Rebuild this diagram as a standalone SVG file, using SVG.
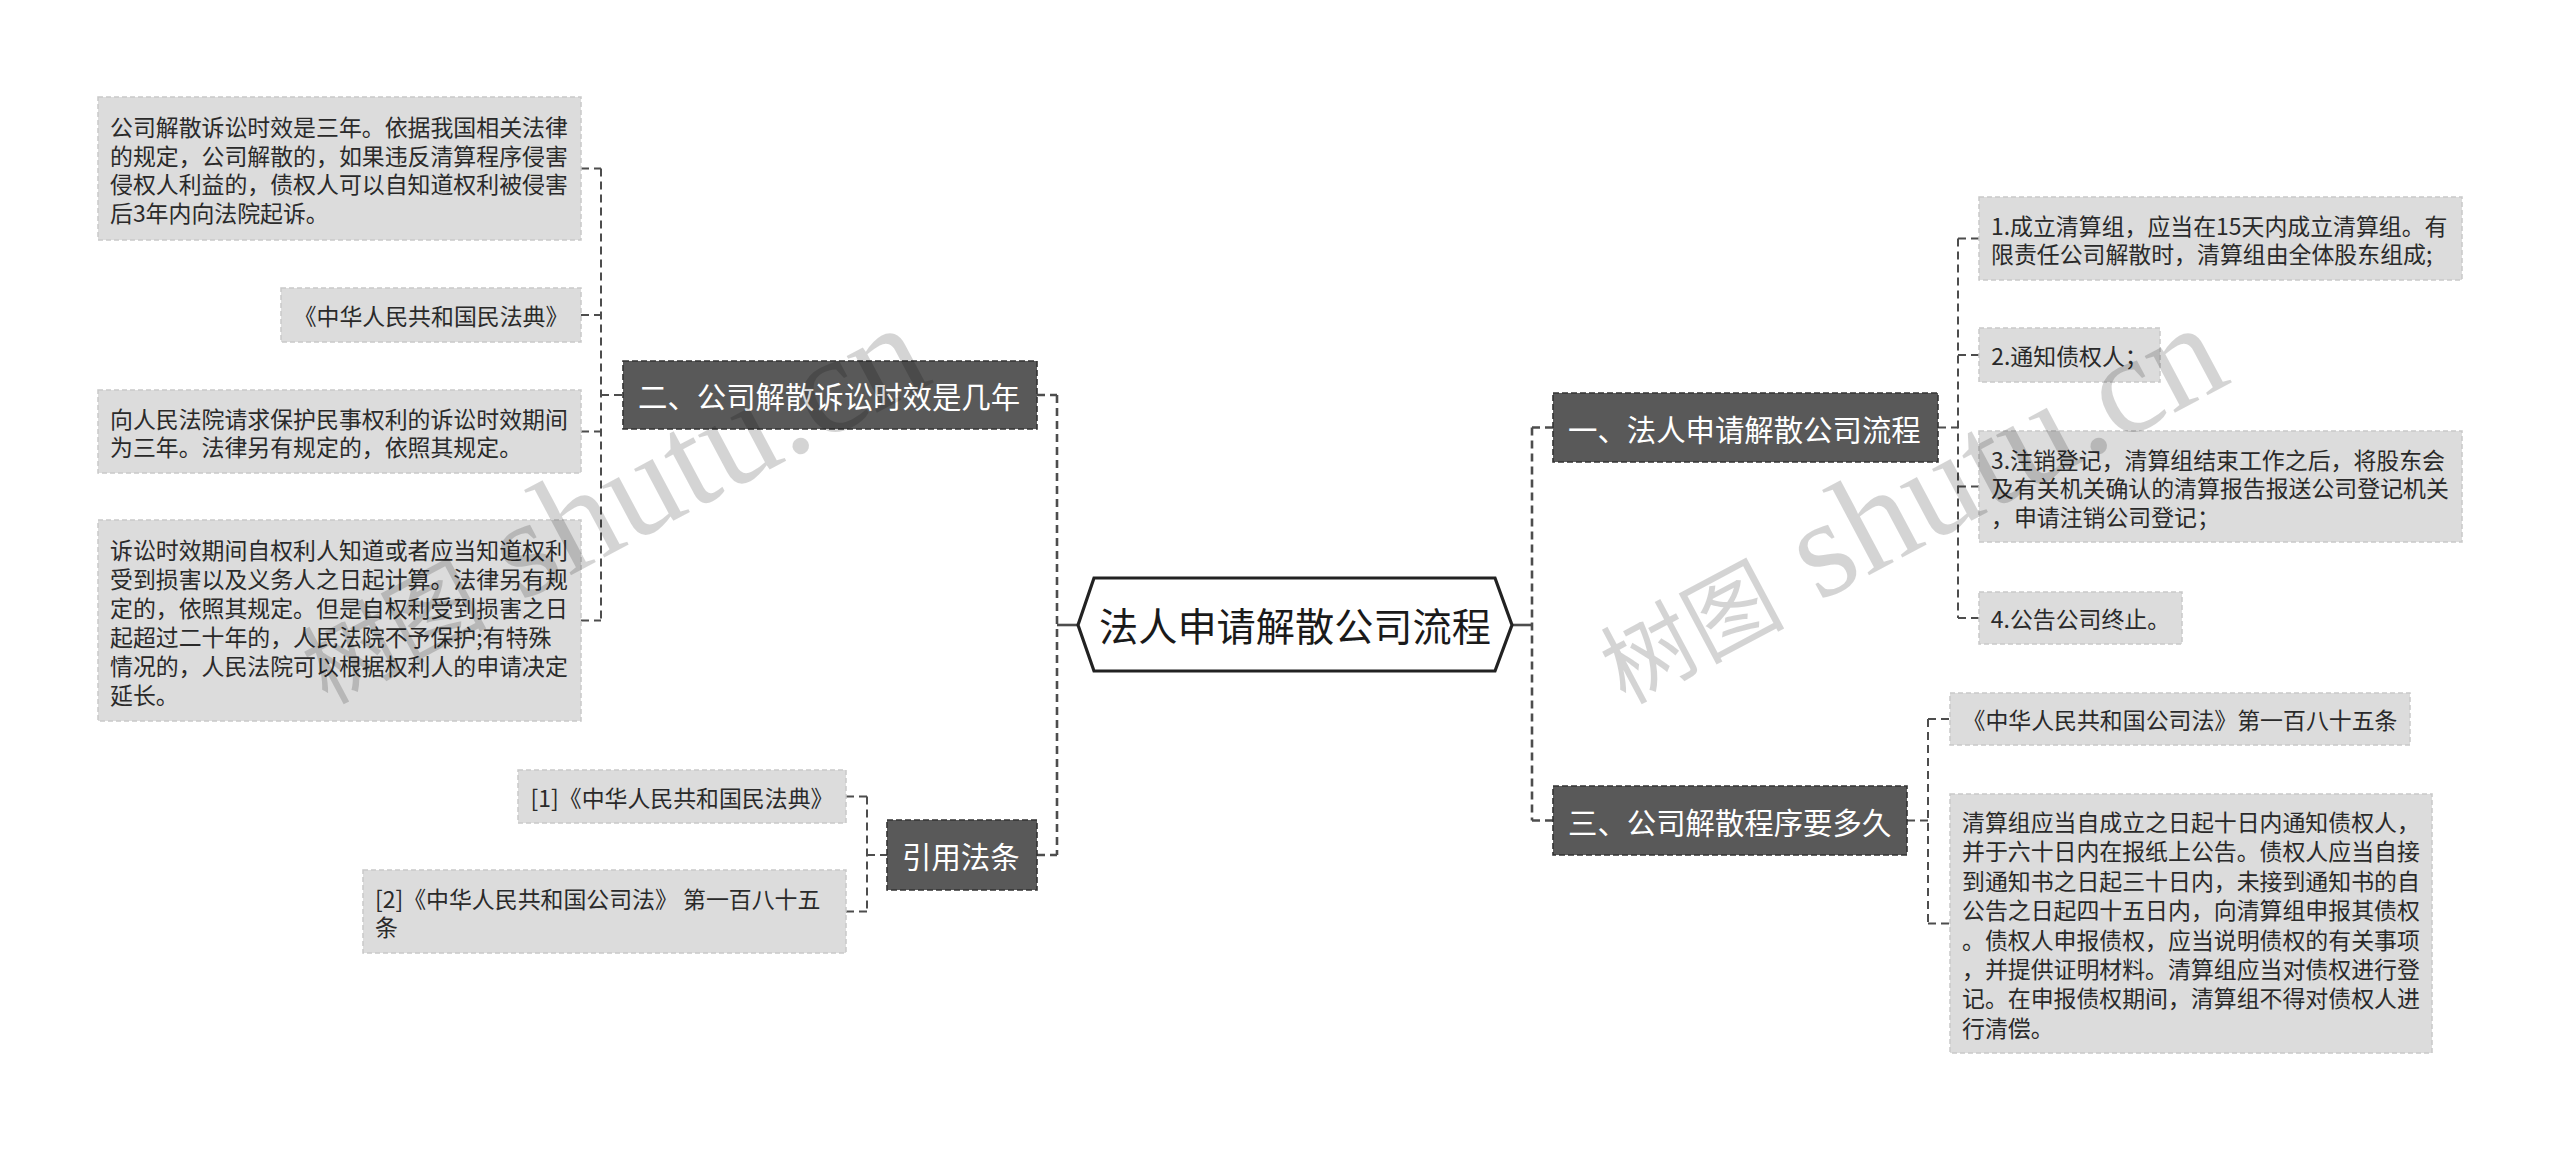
<svg xmlns="http://www.w3.org/2000/svg" width="2560" height="1152" viewBox="0 0 2560 1152">
<style>
.bg{fill:#ffffff}
.conn{fill:none;stroke:#4d4d4d;stroke-width:2;stroke-dasharray:8 5}
.conn-main{fill:none;stroke:#4d4d4d;stroke-width:2.6;stroke-dasharray:8 5}
.join{fill:none;stroke:#4d4d4d;stroke-width:2.6}
.leaf rect{fill:#dcdcdc;stroke:#c9c9c9;stroke-width:1.5;stroke-dasharray:5 3}
.leaf text{font-family:"Noto Sans CJK SC","Noto Sans",sans-serif;font-size:22.9px;fill:#2a2a2a;dominant-baseline:central}
.topic rect{fill:#595959;stroke:#333333;stroke-width:1.6;stroke-dasharray:6 3}
.topic text{font-family:"Noto Sans CJK SC","Noto Sans",sans-serif;font-size:29.4px;fill:#ffffff;dominant-baseline:central}
.root polygon{fill:#ffffff;stroke:#222222;stroke-width:3.2;stroke-linejoin:miter}
.root text{font-family:"Noto Sans CJK SC","Noto Sans",sans-serif;font-size:39.2px;fill:#1a1a1a;dominant-baseline:central;text-anchor:middle}
.mid{text-anchor:middle}
.wm{fill:#000000;fill-opacity:0.17}
.wm .cjk{font-family:"Noto Sans CJK SC",serif;font-size:92px}
.wm .lat{font-family:"Liberation Serif",serif;font-size:140px}
</style>
<rect class="bg" x="0" y="0" width="2560" height="1152"/>

<g id="connectors">
  <!-- root joins -->
  <path class="join" d="M1057 625 H1078"/>
  <path class="join" d="M1512 625 H1532"/>
  <!-- left trunk -->
  <path class="conn-main" d="M1057 395 V855"/>
  <path class="conn-main" d="M1037 395 H1057"/>
  <path class="conn-main" d="M1037 855 H1057"/>
  <!-- right trunk -->
  <path class="conn-main" d="M1532 427.5 V820.5"/>
  <path class="conn-main" d="M1532 427.5 H1553"/>
  <path class="conn-main" d="M1532 820.5 H1553"/>
  <!-- 二 children -->
  <path class="conn" d="M601 168.5 V620.5"/>
  <path class="conn" d="M601 395 H623"/>
  <path class="conn" d="M581 168.5 H601"/>
  <path class="conn" d="M581 315 H601"/>
  <path class="conn" d="M581 431.5 H601"/>
  <path class="conn" d="M581 620.5 H601"/>
  <!-- 引用法条 children -->
  <path class="conn" d="M867 796.5 V911.5"/>
  <path class="conn" d="M867 855 H887"/>
  <path class="conn" d="M846 796.5 H867"/>
  <path class="conn" d="M846 911.5 H867"/>
  <!-- 一 children -->
  <path class="conn" d="M1958 238.5 V618"/>
  <path class="conn" d="M1938 427.5 H1958"/>
  <path class="conn" d="M1958 238.5 H1979"/>
  <path class="conn" d="M1958 355 H1979"/>
  <path class="conn" d="M1958 486.5 H1979"/>
  <path class="conn" d="M1958 618 H1979"/>
  <!-- 三 children -->
  <path class="conn" d="M1928 719 V923.5"/>
  <path class="conn" d="M1907 820.5 H1928"/>
  <path class="conn" d="M1928 719 H1950"/>
  <path class="conn" d="M1928 923.5 H1950"/>
</g>

<g id="root" class="root">
  <polygon points="1078,625 1094,578 1495,578 1512,625 1495,671 1094,671"/>
  <text x="1295" y="624">法人申请解散公司流程</text>
</g>

<g id="topic-2" class="topic">
  <rect x="623" y="361" width="414" height="68"/>
  <text x="638" y="395">二、公司解散诉讼时效是几年</text>
</g>
<g id="topic-cite" class="topic">
  <rect x="887" y="820" width="150" height="70"/>
  <text x="902" y="855">引用法条</text>
</g>
<g id="topic-1" class="topic">
  <rect x="1553" y="393" width="385" height="69"/>
  <text x="1568" y="427.5">一、法人申请解散公司流程</text>
</g>
<g id="topic-3" class="topic">
  <rect x="1553" y="786" width="354" height="69"/>
  <text x="1568" y="820.5">三、公司解散程序要多久</text>
</g>

<g id="leaf-2a" class="leaf">
  <rect x="98" y="97" width="483" height="143"/>
  <text x="110" y="126">公司解散诉讼时效是三年。依据我国相关法律</text>
  <text x="110" y="154.5">的规定，公司解散的，如果违反清算程序侵害</text>
  <text x="110" y="183">侵权人利益的，债权人可以自知道权利被侵害</text>
  <text x="110" y="211.5">后3年内向法院起诉。</text>
</g>
<g id="leaf-2b" class="leaf">
  <rect x="281" y="288" width="300" height="54"/>
  <text class="mid" x="431" y="315">《中华人民共和国民法典》</text>
</g>
<g id="leaf-2c" class="leaf">
  <rect x="98" y="390" width="483" height="83"/>
  <text x="110" y="417.5">向人民法院请求保护民事权利的诉讼时效期间</text>
  <text x="110" y="446">为三年。法律另有规定的，依照其规定。</text>
</g>
<g id="leaf-2d" class="leaf">
  <rect x="98" y="520" width="483" height="201"/>
  <text x="110" y="549">诉讼时效期间自权利人知道或者应当知道权利</text>
  <text x="110" y="578">受到损害以及义务人之日起计算。法律另有规</text>
  <text x="110" y="607">定的，依照其规定。但是自权利受到损害之日</text>
  <text x="110" y="636">起超过二十年的，人民法院不予保护;有特殊</text>
  <text x="110" y="665">情况的，人民法院可以根据权利人的申请决定</text>
  <text x="110" y="694">延长。</text>
</g>
<g id="leaf-cite1" class="leaf">
  <rect x="518" y="770" width="328" height="53"/>
  <text class="mid" x="682" y="796.5">[1]《中华人民共和国民法典》</text>
</g>
<g id="leaf-cite2" class="leaf">
  <rect x="363" y="870" width="483" height="83"/>
  <text x="375" y="897.5">[2]《中华人民共和国公司法》 第一百八十五</text>
  <text x="375" y="926">条</text>
</g>

<g id="leaf-1a" class="leaf">
  <rect x="1979" y="197" width="483" height="83"/>
  <text x="1991" y="224.5">1.成立清算组，应当在15天内成立清算组。有</text>
  <text x="1991" y="253">限责任公司解散时，清算组由全体股东组成;</text>
</g>
<g id="leaf-1b" class="leaf">
  <rect x="1979" y="328" width="181" height="54"/>
  <text class="mid" x="2069.5" y="355">2.通知债权人；</text>
</g>
<g id="leaf-1c" class="leaf">
  <rect x="1979" y="431" width="483" height="111"/>
  <text x="1991" y="458.5">3.注销登记，清算组结束工作之后，将股东会</text>
  <text x="1991" y="487">及有关机关确认的清算报告报送公司登记机关</text>
  <text x="1991" y="515.5">，申请注销公司登记；</text>
</g>
<g id="leaf-1d" class="leaf">
  <rect x="1979" y="592" width="203" height="52"/>
  <text class="mid" x="2080.5" y="618">4.公告公司终止。</text>
</g>

<g id="leaf-3a" class="leaf">
  <rect x="1950" y="693" width="460" height="52"/>
  <text class="mid" x="2180" y="719">《中华人民共和国公司法》第一百八十五条</text>
</g>
<g id="leaf-3b" class="leaf">
  <rect x="1950" y="794" width="482" height="259"/>
  <text x="1962" y="821">清算组应当自成立之日起十日内通知债权人，</text>
  <text x="1962" y="850.4">并于六十日内在报纸上公告。债权人应当自接</text>
  <text x="1962" y="879.8">到通知书之日起三十日内，未接到通知书的自</text>
  <text x="1962" y="909.2">公告之日起四十五日内，向清算组申报其债权</text>
  <text x="1962" y="938.6">。债权人申报债权，应当说明债权的有关事项</text>
  <text x="1962" y="968">，并提供证明材料。清算组应当对债权进行登</text>
  <text x="1962" y="997.4">记。在申报债权期间，清算组不得对债权人进</text>
  <text x="1962" y="1026.8">行清偿。</text>
</g>

<g id="watermarks" class="wm">
  <text transform="translate(1625,705) rotate(-28)"><tspan class="cjk">树图</tspan><tspan class="lat"> shutu.cn</tspan></text>
  <text transform="translate(327,705) rotate(-28)"><tspan class="cjk">树图</tspan><tspan class="lat"> shutu.cn</tspan></text>
</g>
</svg>
